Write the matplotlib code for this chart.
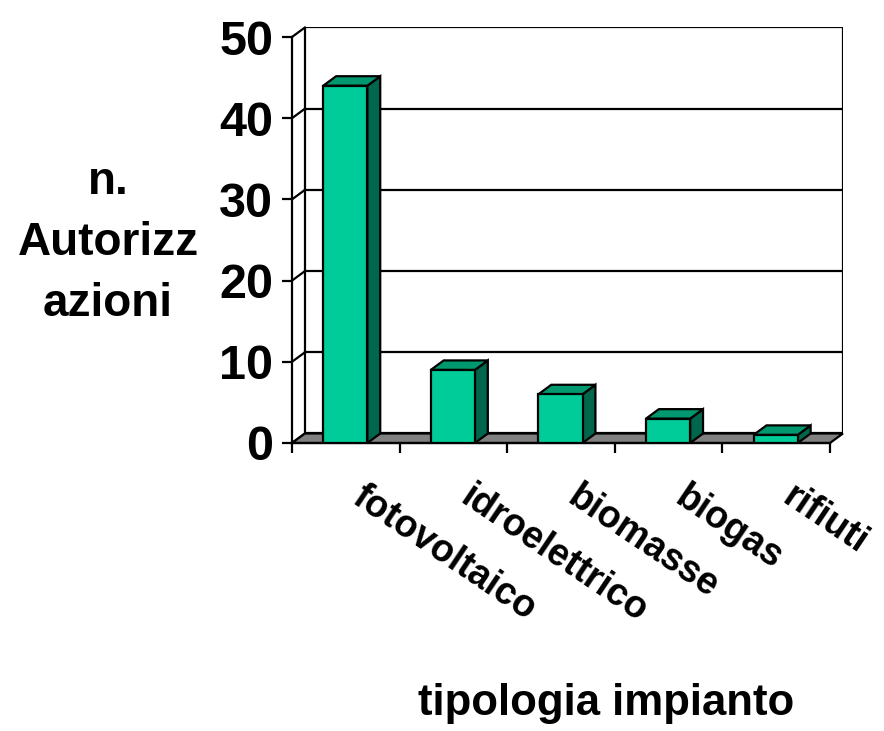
import matplotlib
matplotlib.use("Agg")
import matplotlib.pyplot as plt
from matplotlib.patches import Polygon, Rectangle

plt.rcParams['font.family'] = ['Liberation Sans', 'DejaVu Sans']
plt.rcParams['font.weight'] = 'bold'

# data
categories = ['fotovoltaico', 'idroelettrico', 'biomasse', 'biogas', 'rifiuti']
values = [44, 9, 6, 3, 1]
y_ticks = [0, 10, 20, 30, 40, 50]
y_title = 'n.\nAutorizz\nazioni'
x_title = 'tipologia impianto'

# 3d look
dx, dy = 0.12, 1.17          # depth offset in data units
bar_off, bar_w = 0.29, 0.41
front_c = '#00CC99'
top_c = '#00996F'
side_c = '#00664C'
floor_c = '#808080'
lw = 1.6

fig = plt.figure(figsize=(8.84, 7.31), dpi=100)
n = len(categories)
ymax = y_ticks[-1]
ax = fig.add_axes([292 / 884, (731 - 443) / 731,
                   (n + dx) * 107.6 / 884, (ymax + dy) * 8.12 / 731])
ax.set_xlim(0, n + dx)
ax.set_ylim(0, ymax + dy)
ax.patch.set_visible(False)

# back wall + gridlines
ax.add_patch(Rectangle((dx, dy), n, ymax, facecolor='white', edgecolor='black',
                       lw=lw, zorder=1))
for v in y_ticks[1:-1]:
    ax.plot([dx, n + dx], [v + dy, v + dy], color='black', lw=lw, zorder=1.5)
# side wall diagonals
for v in y_ticks:
    ax.plot([0, dx], [v, v + dy], color='black', lw=lw, zorder=1.5, clip_on=False)

# floor
ax.add_patch(Polygon([(0, 0), (n, 0), (n + dx, dy), (dx, dy)], closed=True,
                     facecolor=floor_c, edgecolor='black', lw=lw, zorder=2,
                     clip_on=False))

# bars
xs = [i + bar_off for i in range(n)]
ax.bar(xs, values, width=bar_w, align='edge', color=front_c, edgecolor='black',
       lw=lw, zorder=4)
for x, v in zip(xs, values):
    side = [(x + bar_w, 0), (x + bar_w + dx, dy), (x + bar_w + dx, v + dy), (x + bar_w, v)]
    top = [(x, v), (x + dx, v + dy), (x + bar_w + dx, v + dy), (x + bar_w, v)]
    ax.add_patch(Polygon(side, closed=True, facecolor=side_c, edgecolor='black',
                         lw=lw, zorder=3))
    ax.add_patch(Polygon(top, closed=True, facecolor=top_c, edgecolor='black',
                         lw=lw, zorder=3))

# axes
for s in ['top', 'right']:
    ax.spines[s].set_visible(False)
ax.spines['left'].set_bounds(0, ymax)
ax.spines['bottom'].set_bounds(0, n)
ax.spines['left'].set_linewidth(lw)
ax.spines['bottom'].set_linewidth(lw)
ax.spines['left'].set_zorder(5)

ax.set_yticks(y_ticks)
ax.set_yticklabels([str(t) for t in y_ticks], fontsize=35, fontweight='bold')
ax.set_xticks(range(n + 1))
ax.set_xticklabels([''] * (n + 1))
ax.tick_params(axis='both', direction='out', length=7.5, width=lw)
ax.tick_params(axis='y', pad=6)

for i, lab in enumerate(categories):
    ax.text(i + 0.69, -4.4, lab, rotation=-34, rotation_mode='anchor',
            ha='left', va='top', fontsize=27, fontweight='bold', clip_on=False)

fig.text(108 / 884, 1 - 243 / 731, y_title, ha='center', va='center',
         fontsize=33, fontweight='bold', linespacing=1.5)
fig.text(606 / 884, 1 - 704 / 731, x_title, ha='center', va='center',
         fontsize=31.5, fontweight='bold')

fig.savefig('out.png', dpi=100)
